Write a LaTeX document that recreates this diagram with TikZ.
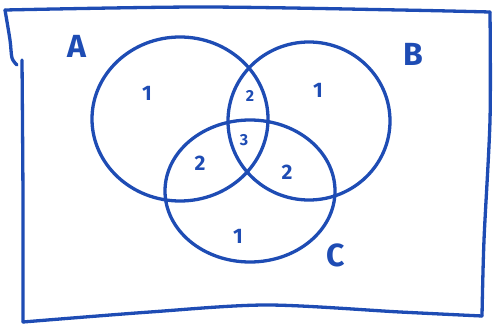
\documentclass[tikz,border=0pt]{standalone}
\usepackage{fontspec}
\setmainfont{Fira Sans}
\definecolor{penblue}{RGB}{30,76,180}

\begin{document}
\begin{tikzpicture}[x=1pt,y=-1pt,
  pen/.style={draw=penblue, line width=3.3pt, line cap=round, line join=round},
  setname/.style={text=penblue, font=\fontsize{32}{32}\selectfont\bfseries},
  count/.style={text=penblue, font=\fontsize{21}{21}\selectfont\bfseries},
  smallcount/.style={text=penblue, font=\fontsize{16}{16}\selectfont\bfseries}]
\useasboundingbox (0,0) rectangle (493,326);
% universe box
\draw[pen] plot[smooth] coordinates {(5,10) (200,7) (400,10) (490,12)};
\draw[pen] plot[smooth] coordinates {(5,10) (10,40) (12,58) (17,65)};
\draw[pen] plot[smooth] coordinates {(22,60) (23,200) (23,322)};
\draw[pen] plot[smooth] coordinates {(23,322) (150,312) (267,305) (400,312) (482,316)};
\draw[pen] plot[smooth] coordinates {(490,12) (490,120) (484,240) (482,316)};
% the three sets
\draw[pen] (180,119) ellipse (88 and 82);
\draw[pen] (309,121) ellipse (81 and 79);
\draw[pen] (250,191) ellipse (85 and 71);
% set names
\node[setname] (nameA) at (77,46) {A};
\node[setname] (nameB) at (413,54) {B};
\node[setname] (nameC) at (336,255) {C};
% region counts
\node[count] (onlyA) at (147,93) {1};
\node[count] (onlyB) at (318,90) {1};
\node[count] (onlyC) at (238,236) {1};
\node[smallcount] (AB) at (250,96) {2};
\node[smallcount] (ABC) at (244,140) {3};
\node[count] (AC) at (200,163) {2};
\node[count] (BC) at (287,172) {2};
\end{tikzpicture}
\end{document}
